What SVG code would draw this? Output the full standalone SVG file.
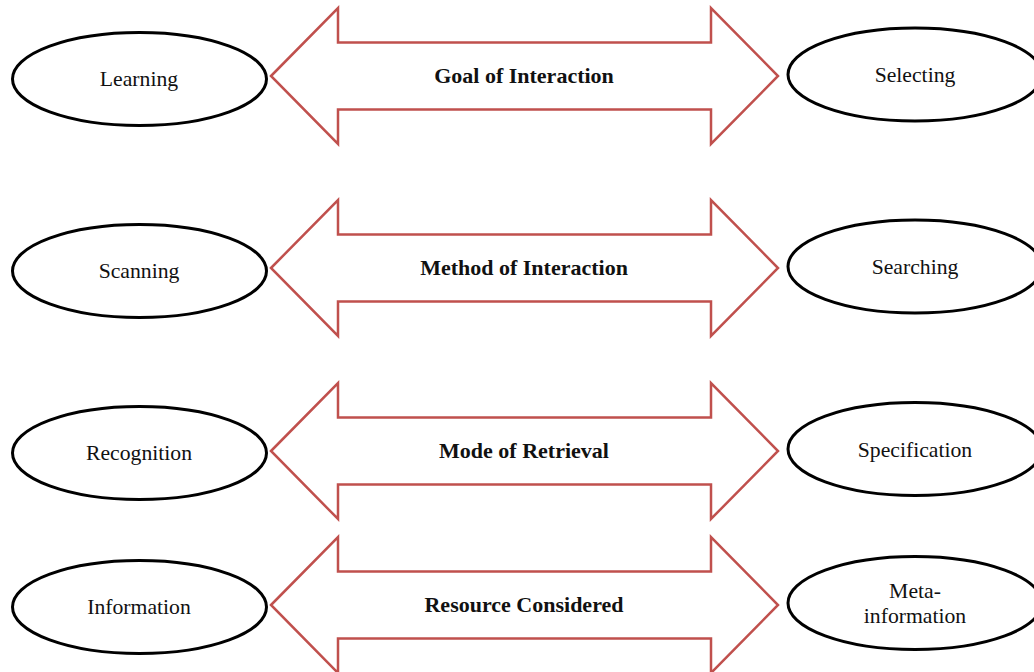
<svg xmlns="http://www.w3.org/2000/svg" width="1034" height="672" viewBox="0 0 1034 672">
  <style>
    .oval { fill: #ffffff; stroke: #000000; stroke-width: 3; }
    .dbl { fill: #ffffff; stroke: #C0504D; stroke-width: 2.5; stroke-linejoin: miter; }
    .lbl { font-family: "Liberation Serif", "Times New Roman", serif; font-size: 21.7px; fill: #111111; text-anchor: middle; }
    .dim { font-family: "Liberation Serif", "Times New Roman", serif; font-size: 22px; font-weight: bold; fill: #111111; text-anchor: middle; }
  </style>
  <defs>
    <!-- double-headed block arrow centred on y=0 -->
    <path id="dblArrow" d="M271,0 L338,-68 L338,-33.5 L711,-33.5 L711,-68 L778,0 L711,68 L711,33.5 L338,33.5 L338,68 Z"/>
  </defs>

  <g id="connectors">
    <use href="#dblArrow" class="dbl" transform="translate(0,76)"/>
    <use href="#dblArrow" class="dbl" transform="translate(0,268)"/>
    <use href="#dblArrow" class="dbl" transform="translate(0,451)"/>
    <use href="#dblArrow" class="dbl" transform="translate(0,605)"/>
  </g>

  <g id="dimension-labels">
    <text class="dim" x="524" y="83">Goal of Interaction</text>
    <text class="dim" x="524" y="275">Method of Interaction</text>
    <text class="dim" x="524" y="458">Mode of Retrieval</text>
    <text class="dim" x="524" y="612">Resource Considered</text>
  </g>

  <g id="learning">
    <ellipse class="oval" cx="139.5" cy="79" rx="127" ry="46.5"/>
    <text class="lbl" x="139" y="86">Learning</text>
  </g>
  <g id="selecting">
    <ellipse class="oval" cx="915" cy="74.5" rx="127" ry="46.5"/>
    <text class="lbl" x="915" y="82">Selecting</text>
  </g>

  <g id="scanning">
    <ellipse class="oval" cx="139.5" cy="271" rx="127" ry="46.5"/>
    <text class="lbl" x="139" y="278">Scanning</text>
  </g>
  <g id="searching">
    <ellipse class="oval" cx="915" cy="266.5" rx="127" ry="46.5"/>
    <text class="lbl" x="915" y="274">Searching</text>
  </g>

  <g id="recognition">
    <ellipse class="oval" cx="139.5" cy="453" rx="127" ry="46.5"/>
    <text class="lbl" x="139" y="460">Recognition</text>
  </g>
  <g id="specification">
    <ellipse class="oval" cx="915" cy="449" rx="127" ry="46.5"/>
    <text class="lbl" x="915" y="457">Specification</text>
  </g>

  <g id="information">
    <ellipse class="oval" cx="139.5" cy="607" rx="127" ry="46.5"/>
    <text class="lbl" x="139" y="614">Information</text>
  </g>
  <g id="meta-information">
    <ellipse class="oval" cx="915" cy="603" rx="127" ry="46.5"/>
    <text class="lbl" x="915" y="598">Meta-</text>
    <text class="lbl" x="915" y="623">information</text>
  </g>
</svg>
